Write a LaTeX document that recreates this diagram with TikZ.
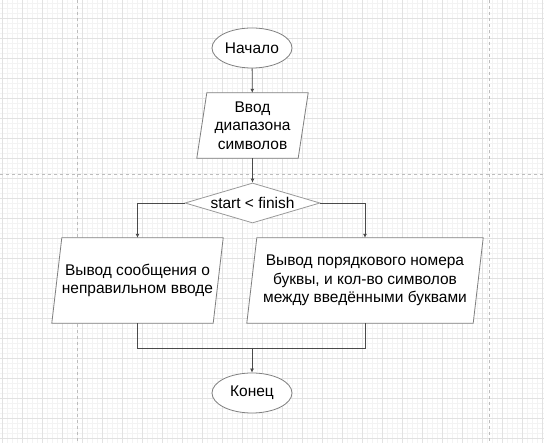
\documentclass[tikz,border=0pt]{standalone}
\usepackage{fontspec}
\setmainfont{Liberation Sans}
\usetikzlibrary{arrows.meta,shapes.geometric}
\definecolor{gridmaj}{HTML}{E2E2E2}
\definecolor{gridmin}{HTML}{F3F3F3}
\definecolor{pageln}{HTML}{BDBDBD}
\definecolor{shapeln}{HTML}{7F7F7F}
\definecolor{connln}{HTML}{4A4A4A}
\tikzset{
  txt/.style={font=\fontsize{15.5}{18.3}\selectfont, align=center, inner sep=0pt},
  term/.style={txt, ellipse, draw=shapeln, line width=0.8pt, fill=white, minimum width=80, minimum height=40},
  dec/.style={txt, diamond, draw=shapeln!80, line width=0.8pt, fill=white, minimum width=135, minimum height=40, aspect=3.4},
  ptext/.style={txt, minimum height=85},
  pline/.style={draw=shapeln, line width=0.8pt, fill=white},
  conn/.style={draw=connln, line width=0.8pt, -{Latex[length=4pt,width=4pt]}},
  connplain/.style={draw=connln, line width=0.8pt}
}
\begin{document}
\begin{tikzpicture}[x=1pt,y=-1pt]
\useasboundingbox (0,0) rectangle (544,443);
\fill[white] (0,0) rectangle (544,443);
% grid
\foreach \i in {0,...,109} {\draw[gridmin, line width=0.5pt] ({2+5*\i},0) -- ({2+5*\i},443);}
\foreach \i in {0,...,88} {\draw[gridmin, line width=0.5pt] (0,{3+5*\i}) -- (544,{3+5*\i});}
\foreach \i in {0,...,27} {\draw[gridmaj, line width=0.8pt] ({2+20*\i},0) -- ({2+20*\i},443);}
\foreach \i in {0,...,22} {\draw[gridmaj, line width=0.8pt] (0,{18+20*\i}) -- (544,{18+20*\i});}
\draw[pageln, line width=0.8pt, dash pattern=on 3pt off 3pt] (77,0) -- (77,443);
\draw[pageln, line width=0.8pt, dash pattern=on 3pt off 3pt] (489,0) -- (489,443);
\draw[pageln, line width=0.8pt, dash pattern=on 3pt off 3pt] (0,174) -- (544,174);

% nodes
\node[term] (start) at (252,48) {Начало};

\node[txt, minimum width=101, minimum height=65] (inp) at (252.5,125.5) {Ввод\\диапазона\\символов};
\path[pline] ([xshift=5]inp.north west) -- ([xshift=5]inp.north east) -- ([xshift=-5]inp.south east) -- ([xshift=-5]inp.south west) -- cycle;
\node[txt] at (inp.center) {Ввод\\диапазона\\символов};

\node[dec] (cond) at (252.5,203) {start < finish};

\node[ptext, minimum width=161] (err) at (137.5,280.5) {Вывод сообщения о\\неправильном вводе};
\path[pline] ([xshift=5]err.north west) -- ([xshift=5]err.north east) -- ([xshift=-5]err.south east) -- ([xshift=-5]err.south west) -- cycle;
\node[txt] at (err.center) {Вывод сообщения о\\неправильном вводе};

\node[ptext, minimum width=226] (res) at (365,280.5) {Вывод порядкового номера\\буквы, и кол-во символов\\между введёнными буквами};
\path[pline] ([xshift=5]res.north west) -- ([xshift=5]res.north east) -- ([xshift=-5]res.south east) -- ([xshift=-5]res.south west) -- cycle;
\node[txt] at (res.center) {Вывод порядкового номера\\буквы, и кол-во символов\\между введёнными буквами};

\node[term] (fin) at (252,393) {Конец};

\coordinate (mL) at (err.south |- 0,348);
\coordinate (mR) at (res.south |- 0,348);
\coordinate (mC) at (fin.north |- 0,348);

% connectors
\draw[conn] (start) -- (inp);
\draw[conn] (inp) -- (cond);
\draw[conn] (cond.west) -| (err.north);
\draw[conn] (cond.east) -| (res.north);
\draw[connplain] (err.south) -- (mL) -- (mR) -- (res.south);
\draw[conn] (mC) -- (fin.north);
\end{tikzpicture}
\end{document}
